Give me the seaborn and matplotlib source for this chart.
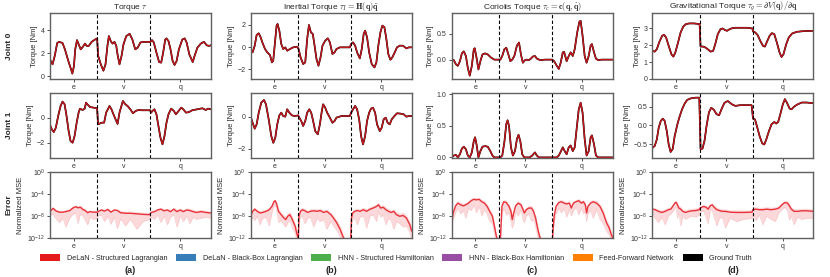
import numpy as np
import matplotlib
matplotlib.use('Agg')
import matplotlib.pyplot as plt
import seaborn as sns
from matplotlib.patches import Patch
from matplotlib.ticker import NullLocator

# ---------------- torque curves (time in % of the test set, torque in Nm) ----------------
tau_j0_t = [0, 1.7, 3.1, 4.6, 5.8, 7.9, 9.4, 11.5, 12.9, 14.0, 15.0, 15.8, 16.9, 17.9, 19.2, 20.4, 21.9, 22.9, 24.2, 26.0, 28.1, 29.4,
            30.0, 31.7, 33.3, 34.6, 35.8, 36.7, 37.9, 39.0, 40.2, 41.3, 42.1, 43.3, 44.6, 45.8, 47.5, 49.6, 51.3, 53.1, 54.6, 56.3, 58.3, 62.5,
            63.5, 64.6, 66.3, 67.9, 69.2, 70.4, 71.7, 72.5, 73.8, 75.0, 76.3, 77.5, 78.8, 80.2, 82.3, 83.8, 85.0, 86.7, 88.8, 90.0, 91.7, 93.8, 95.8, 97.5, 99.0, 100]
tau_j0 = [1.5, 1.05, 1.8, 2.9, 3.0, 2.9, 2.35, 1.35, 0.75, 0.25, 0.9, 2.35, 3.15, 2.8, 2.35, 2.55, 2.85, 2.65, 2.65, 3.0, 3.2, 3.3,
          1.8, 1.05, 0.5, 1.05, 2.65, 3.5, 3.05, 2.85, 3.0, 2.65, 1.9, 1.05, 1.8, 2.8, 3.5, 3.7, 3.2, 2.35, 2.5, 2.95, 3.0, 3.0,
          3.15, 2.95, 2.05, 1.25, 1.2, 2.05, 3.2, 3.3, 3.05, 2.35, 1.35, 1.0, 1.35, 2.35, 3.2, 3.3, 2.95, 1.9, 1.25, 1.8, 2.5, 2.85, 3.0, 2.7, 2.65, 2.7]

tau_j1_t = [0, 1.25, 2.5, 3.75, 5.2, 6.7, 7.9, 9.2, 10.4, 11.7, 12.9, 14.2, 15.4, 16.7, 17.9, 18.75, 20.4, 21.7, 22.5, 23.3, 25.0, 27.1, 29.4,
            30.0, 32.3, 33.75, 35.0, 37.1, 38.3, 39.6, 42.1, 43.3, 45.4, 46.9, 48.3, 50.0, 51.7, 53.3, 55.0, 57.3, 62.3,
            62.9, 63.75, 65.0, 66.25, 67.5, 68.75, 70.0, 71.25, 72.5, 73.75, 75.4, 77.1, 78.3, 80.0, 81.7, 82.9, 84.6, 86.5, 88.5, 91.7, 94.8, 96.9, 98.3, 100]
tau_j1 = [-0.53, -0.93, -1.15, -0.8, 0.13, 0.93, 1.28, 1.07, 0.13, -1.07, -1.87, -2.0, -1.47, -0.4, 0.4, 0.72, 0.61, 0.72, 1.2, 1.07, 0.85, 0.8, 0.75,
          -0.53, -0.4, -0.4, 0.4, 0.93, 0.67, 0.25, -0.5, 0.4, 1.33, 1.07, 0.93, 0.67, 0.35, 0.53, 0.61, 0.59, 0.59,
          0.4, 0.53, 0.67, 0.27, -0.67, -1.6, -2.13, -1.47, -0.4, 0.27, 0.72, 0.53, 0.27, 0.53, 0.8, 0.67, 0.4, 0.45, 0.59, 0.67, 0.75, 0.61, 0.72, 0.67]

inert_j0_t = [0, 1.2, 2.5, 3.7, 5.0, 6.2, 7.4, 8.9, 10.3, 12.0, 13.2, 14.0, 15.1, 16.1, 16.7, 17.8, 19.0, 20.2, 21.5, 22.7, 24.4, 26.4, 28.9,
              29.75, 31.0, 32.6, 33.9, 35.1, 36.2, 37.4, 38.6, 39.7, 40.9, 42.1, 43.4, 44.6, 46.3, 47.9, 49.2, 50.8, 52.1, 53.3, 55.4, 61.6,
              62.4, 63.6, 64.9, 66.1, 67.8, 69.0, 70.2, 71.1, 72.3, 73.6, 75.2, 76.9, 78.1, 79.3, 80.6, 81.8, 83.1, 84.3, 85.5, 86.8, 88.0, 89.5, 90.9, 92.6, 94.6, 96.7, 98.3, 100]
inert_j0 = [-0.18, -0.48, 0.12, 1.08, 1.23, 0.87, 0.36, -0.18, -0.48, -0.72, -1.38, -1.23, 0.42, 1.92, 2.07, 1.47, 0.27, -0.18, -0.03, -0.33, -0.18, -0.03, 0.03,
            -0.18, -0.93, -1.53, -1.38, 0.72, 1.98, 1.32, 1.17, 0.12, -1.08, -1.68, -0.93, 0.12, 0.57, 0.78, 0.42, -0.63, -0.48, -0.18, -0.03, -0.03,
            0.27, 0.42, 0.12, -0.48, -1.02, -0.18, 1.17, 1.47, 0.87, -0.48, -1.53, -1.83, -1.38, 0.12, 1.32, 1.92, 1.77, 0.72, -0.63, -1.14, -0.93, -0.48, -0.03, 0.12, 0.12, -0.12, -0.03, -0.03]

inert_j1_t = [0, 1.2, 2.5, 3.7, 5.0, 6.6, 8.3, 9.5, 11.2, 12.8, 14.05, 15.3, 16.5, 17.8, 19.0, 20.2, 21.5, 22.7, 24.0, 25.6, 27.5, 29.5,
              30.2, 31.4, 32.6, 33.9, 35.1, 36.4, 37.6, 38.8, 40.1, 41.7, 43.0, 44.2, 45.0, 46.3, 47.5, 49.2, 50.8, 52.1, 53.3, 56.4, 61.6,
              62.4, 63.6, 64.9, 66.1, 67.4, 68.6, 69.8, 71.1, 72.3, 73.6, 74.8, 76.0, 77.3, 78.5, 80.2, 81.4, 82.6, 83.9, 85.1, 86.4, 87.6, 89.3, 90.9, 93.0, 95.0, 96.7, 98.3, 100]
inert_j1 = [0, -0.38, -0.75, -0.48, 0.25, 0.88, 1.04, 0.77, -0.17, -1.21, -1.63, -1.31, -0.48, 0.08, 0.25, 0.04, 0, 0.46, 0.25, 0.08, 0.04, 0.08,
            -0.06, -0.27, -0.58, -0.27, 0.25, 0.46, 0.25, -0.27, -0.9, -1.1, -0.48, 0.35, 0.77, 0.56, 0.25, -0.06, -0.38, -0.27, -0.06, 0.04, 0.04,
            0.25, 0.46, 0.67, 0.46, -0.17, -1.21, -1.73, -1.21, -0.27, 0.25, 0.5, 0.56, 0.25, -0.48, -0.9, -0.69, -0.17, -0.06, -0.38, -0.48, -0.17, 0.04, 0.21, 0.19, 0.15, 0, 0.04, 0.04]

cor_j0_t = [0, 1.4, 2.7, 3.9, 5.2, 6.4, 7.6, 8.9, 10.1, 11.3, 12.6, 13.8, 14.4, 15.5, 16.7, 17.9, 19.2, 20.8, 22.5, 24.5, 26.6, 29.5,
            30.3, 31.5, 32.8, 34.0, 35.3, 36.5, 37.7, 39.0, 40.6, 41.9, 43.1, 44.3, 45.6, 46.8, 48.0, 49.3, 50.5, 51.8, 53.0, 55.1, 58.1, 62.0,
            62.5, 63.7, 65.4, 66.6, 67.8, 69.1, 69.9, 70.7, 71.5, 72.8, 74.0, 75.3, 76.5, 78.1, 79.4, 80.2, 81.4, 82.7, 83.9, 85.2, 86.4, 87.2, 88.5, 89.7, 91.1, 93.2, 96.3, 100]
cor_j0 = [0, -0.01, -0.09, -0.12, -0.03, 0.12, 0.16, 0.07, -0.16, -0.31, -0.12, 0.2, 0.22, 0.04, -0.19, -0.03, 0.1, 0.12, 0.1, 0.04, 0, 0,
          0, 0.07, 0.2, 0.23, 0.1, -0.03, 0, 0.07, 0.27, 0.33, 0.1, -0.06, -0.01, 0, -0.01, 0.02, 0.06, 0.07, 0.02, -0.01, 0, 0,
          0, -0.03, -0.12, -0.18, -0.06, 0.14, 0.15, 0.06, -0.03, 0.07, 0.14, 0.07, 0.2, 0.53, 0.73, 0.75, 0.46, 0.07, -0.06, 0.07, 0.27, 0.3, 0.14, 0.02, -0.01, 0, 0, 0]

cor_j1_t = [0, 1.4, 2.7, 3.9, 5.2, 6.4, 7.6, 8.9, 10.1, 11.3, 12.6, 13.8, 14.6, 15.5, 16.7, 17.9, 19.2, 20.8, 22.5, 24.1, 25.4, 26.6, 29.5,
            30.3, 31.5, 32.8, 34.0, 34.8, 35.7, 36.9, 38.1, 39.4, 40.6, 41.6, 42.7, 43.9, 45.2, 48.5, 50.1, 51.8, 53.0, 54.2, 62.0,
            62.5, 65.4, 66.6, 67.8, 69.1, 70.3, 71.5, 72.8, 74.0, 75.3, 76.5, 77.7, 79.0, 80.2, 81.4, 82.7, 83.9, 85.2, 86.4, 87.2, 88.5, 89.7, 91.1, 100]
cor_j1 = [0, 0.03, 0.04, 0, 0.05, 0.14, 0.17, 0.13, 0.03, 0, 0.08, 0.26, 0.32, 0.21, 0, 0.1, 0.17, 0.18, 0.17, 0.1, 0.03, 0, 0,
          0, 0.03, 0.24, 0.53, 0.59, 0.5, 0.16, 0.03, 0.1, 0.29, 0.36, 0.26, 0.05, 0, 0, 0.03, 0.08, 0.03, 0, 0,
          0, 0, 0.03, 0.09, 0.16, 0.1, 0.05, 0.16, 0.19, 0.1, 0.16, 0.45, 0.76, 0.87, 0.71, 0.29, 0.03, 0.1, 0.32, 0.35, 0.21, 0.03, 0, 0]

grav_j0_t = [0, 1.4, 2.7, 4.3, 6.0, 7.2, 8.5, 10.1, 11.8, 13.0, 14.2, 15.9, 17.5, 19.2, 20.8, 22.9, 25.8, 29.3,
             29.9, 31.5, 33.0, 34.4, 36.1, 37.7, 39.0, 40.6, 42.3, 43.5, 45.2, 46.4, 48.0, 49.7, 51.8, 54.6, 58.8, 62.1,
             62.5, 63.9, 65.4, 67.0, 68.7, 69.9, 71.1, 72.8, 74.2, 75.7, 77.3, 79.0, 80.2, 81.4, 83.1, 84.7, 86.8, 89.7, 93.8, 100]
grav_j0 = [1.66, 1.62, 1.76, 2.2, 2.56, 2.62, 2.46, 1.96, 1.46, 1.32, 1.56, 2.16, 2.76, 3.12, 3.26, 3.3, 3.3, 3.26,
           1.92, 1.92, 1.86, 1.76, 1.62, 1.66, 2.06, 2.66, 2.96, 3.0, 2.9, 2.86, 2.96, 3.02, 3.04, 3.04, 3.04, 3.0,
           2.82, 2.76, 2.6, 2.26, 1.96, 1.92, 2.2, 2.56, 2.72, 2.66, 2.16, 1.56, 1.3, 1.46, 2.06, 2.46, 2.7, 2.8, 2.84, 2.86]

grav_j1_t = [0, 1.4, 2.7, 3.9, 5.2, 6.4, 7.6, 8.9, 10.1, 11.3, 12.6, 13.8, 15.5, 16.7, 18.4, 20.0, 21.6, 23.7, 26.8, 29.1,
             29.9, 31.1, 32.4, 33.6, 35.1, 36.5, 38.1, 39.8, 41.4, 43.1, 44.7, 46.8, 49.5, 51.5, 54.6, 61.6,
             62.5, 63.7, 64.9, 66.6, 68.2, 69.5, 70.7, 72.4, 74.0, 75.7, 76.9, 78.1, 79.4, 81.0, 82.3, 83.5, 85.2, 86.4, 88.0, 90.1, 92.8, 95.9, 100]
grav_j1 = [-0.6, -0.55, -0.38, -0.06, 0.12, 0.18, 0.12, -0.15, -0.51, -0.71, -0.63, -0.29, 0.03, 0.21, 0.43, 0.58, 0.68, 0.72, 0.74, 0.74,
           -0.63, -0.62, -0.4, -0.02, 0.35, 0.47, 0.42, 0.3, 0.27, 0.45, 0.6, 0.65, 0.56, 0.52, 0.54, 0.54,
           0.18, 0.16, -0.02, -0.29, -0.48, -0.51, -0.38, -0.15, 0.03, 0.09, 0.05, 0.09, 0.29, 0.56, 0.7, 0.61, 0.45, 0.43, 0.5, 0.56, 0.61, 0.61, 0.59]

# ---------------- normalized MSE (log10): mean, band high, band low ----------------
err_tau_t = [0, 2, 4, 6, 8, 10, 12.5, 14, 16, 17.5, 19, 20.5, 22, 23.5, 25, 27, 29.5,
             30, 32, 34, 36, 38, 40, 42, 44, 47, 50, 54, 58, 62,
             63, 65, 67, 69, 71, 73, 75, 77, 79, 81, 83, 85, 87, 89, 91, 94, 97, 100]
err_tau = [-7.2, -6.6, -7.1, -7.3, -7.3, -7.2, -7.0, -6.6, -6.3, -6.5, -6.4, -6.8, -7.0, -7.4, -7.2, -7.3, -7.3,
           -7.2, -6.9, -7.1, -6.8, -7.3, -6.9, -7.0, -7.4, -7.5, -7.5, -7.6, -7.7, -7.75,
           -7.35, -7.2, -6.9, -6.75, -7.05, -6.9, -7.2, -6.75, -7.2, -6.9, -7.2, -6.9, -7.0, -7.2, -7.35, -7.2, -7.35, -7.45]
err_tau_hi = [-6.8, -6.3, -6.8, -7.0, -7.0, -6.8, -6.6, -6.2, -6.0, -6.1, -6.1, -6.4, -6.7, -7.0, -6.9, -7.0, -7.0,
              -6.9, -6.6, -6.8, -6.5, -7.0, -6.6, -6.7, -7.0, -7.1, -7.1, -7.2, -7.3, -7.4,
              -7.0, -6.9, -6.6, -6.4, -6.7, -6.6, -6.9, -6.4, -6.8, -6.6, -6.8, -6.5, -6.6, -6.8, -7.0, -6.8, -7.0, -7.1]
err_tau_lo = [-8.0, -7.6, -8.6, -9.2, -8.4, -10.0, -8.3, -7.8, -7.4, -9.4, -7.6, -8.0, -8.8, -9.6, -8.2, -8.6, -8.4,
              -8.0, -7.8, -9.0, -8.0, -9.5, -8.2, -10.3, -8.5, -9.8, -8.6, -10.4, -9.0, -8.6,
              -8.2, -8.6, -7.8, -9.2, -8.0, -9.6, -8.2, -7.8, -10.0, -8.0, -9.0, -8.0, -9.4, -8.2, -8.6, -8.4, -8.2, -8.4]

err_inert_t = [0, 1.2, 2.5, 4.1, 5.8, 7.4, 9.5, 11.5, 13.2, 14.4, 15.2, 16.0, 17.3, 18.9, 20.6, 21.8, 23.0, 24.3, 25.9, 27.6, 28.8, 29.6,
               30.0, 30.9, 32.1, 33.7, 35.4, 37.0, 39.1, 41.2, 43.2, 45.3, 47.3, 49.8, 51.4, 53.5, 55.6, 57.2, 58.4, 62.0,
               62.6, 63.4, 64.6, 66.3, 67.9, 70.0, 72.0, 74.1, 76.1, 78.2, 79.4, 80.7, 82.3, 84.0, 85.6, 87.2, 88.9, 90.5, 92.6, 94.7, 96.7, 98.8, 100]
err_inert = [-8.05, -7.15, -6.75, -7.15, -7.45, -7.35, -7.15, -6.85, -6.25, -5.4, -5.2, -5.7, -7.15, -7.75, -8.35, -8.65, -8.05, -7.75, -8.65, -9.85, -11.35, -12.2,
             -8.05, -7.15, -6.85, -7.05, -7.35, -7.15, -7.05, -7.15, -7.0, -7.35, -7.15, -7.75, -8.35, -9.25, -10.45, -11.65, -12.5, -13.5,
             -8.35, -7.45, -7.15, -7.0, -7.15, -6.85, -7.15, -6.75, -6.55, -6.25, -5.95, -6.55, -6.4, -6.85, -7.15, -7.35, -7.15, -7.75, -8.05, -7.9, -8.35, -9.55, -10.75]
err_inert_hi = [-7.6, -6.7, -6.4, -6.8, -7.0, -6.9, -6.8, -6.5, -5.9, -5.1, -4.9, -5.3, -6.6, -7.3, -7.8, -8.0, -7.5, -7.2, -8.0, -9.2, -10.6, -11.6,
                -7.5, -6.7, -6.4, -6.6, -7.0, -6.7, -6.6, -6.7, -6.6, -6.9, -6.7, -7.3, -7.8, -8.7, -9.8, -11.0, -11.9, -13.0,
                -7.8, -7.0, -6.7, -6.6, -6.7, -6.4, -6.7, -6.3, -6.1, -5.8, -5.5, -6.1, -5.9, -6.4, -6.7, -6.9, -6.7, -7.2, -7.5, -7.3, -7.8, -8.9, -10.1]
err_inert_lo = [-9.0, -8.2, -8.8, -8.0, -9.6, -8.4, -8.2, -9.8, -7.4, -6.2, -6.0, -6.8, -9.2, -8.8, -9.6, -10.0, -9.2, -8.8, -10.2, -11.2, -12.6, -13.0,
                -9.2, -8.2, -8.0, -9.4, -8.4, -8.2, -10.0, -8.4, -9.0, -8.6, -10.4, -9.0, -9.8, -10.6, -11.8, -12.8, -13.5, -14.0,
                -9.6, -8.6, -8.4, -9.6, -8.2, -8.0, -10.2, -8.0, -7.8, -9.0, -7.2, -8.2, -7.8, -9.6, -8.4, -8.8, -10.4, -9.0, -9.4, -10.0, -9.8, -11.0, -12.2]

err_cor_t = [0, 1.0, 2.5, 3.9, 5.6, 7.2, 8.9, 10.5, 12.2, 13.8, 15.5, 17.1, 18.8, 20.4, 22.1, 23.7, 25.4, 26.6, 27.8, 28.7, 29.6,
             29.7, 30.3, 31.3, 32.4, 34.0, 35.7, 36.9, 37.7, 38.6, 39.8, 41.4, 43.1, 44.3, 45.2, 46.4, 48.0, 49.7, 50.9, 52.2, 53.4, 54.6, 55.9, 62.0,
             62.3, 63.7, 64.9, 66.6, 68.2, 69.9, 71.5, 73.2, 74.4, 75.7, 77.3, 79.0, 80.6, 81.9, 83.1, 83.9, 84.7, 86.4, 88.0, 90.1, 92.2, 94.2, 96.3, 97.9, 99.2, 100]
err_cor = [-9.25, -7.45, -6.15, -5.65, -5.95, -6.15, -5.95, -5.65, -5.2, -4.95, -5.05, -4.95, -5.4, -5.65, -6.25, -7.15, -8.05, -9.85, -11.65, -12.5, -13.5,
           -13.5, -12.5, -6.25, -5.4, -5.55, -6.25, -7.15, -8.65, -7.45, -6.15, -5.65, -5.95, -6.75, -7.45, -6.85, -6.55, -6.55, -7.15, -8.35, -10.15, -11.65, -12.6, -13.5,
           -13.5, -8.05, -6.25, -5.55, -5.4, -5.65, -5.8, -5.65, -6.55, -5.65, -5.4, -5.2, -5.65, -5.4, -5.95, -7.45, -6.25, -5.65, -5.4, -5.65, -6.25, -7.45, -9.25, -10.15, -11.35, -11.95]
err_cor_hi = [-8.6, -6.9, -5.7, -5.2, -5.5, -5.7, -5.5, -5.2, -4.8, -4.6, -4.7, -4.6, -5.0, -5.2, -5.8, -6.7, -7.5, -9.2, -11.0, -11.9, -13.0,
              -13.0, -11.8, -5.8, -5.0, -5.1, -5.8, -6.6, -7.8, -6.9, -5.7, -5.2, -5.5, -6.3, -6.9, -6.4, -6.1, -6.1, -6.6, -7.8, -9.5, -11.0, -12.0, -13.0,
              -13.0, -7.5, -5.8, -5.1, -5.0, -5.2, -5.4, -5.2, -6.0, -5.2, -5.0, -4.8, -5.2, -5.0, -5.5, -6.8, -5.8, -5.2, -5.0, -5.2, -5.8, -6.9, -8.6, -9.5, -10.7, -11.3]
err_cor_lo = [-10.4, -8.6, -7.4, -6.6, -7.6, -7.0, -8.4, -6.6, -7.0, -6.0, -7.4, -6.2, -8.0, -6.8, -7.8, -9.0, -9.4, -11.2, -12.8, -13.5, -14.0,
              -14.0, -13.5, -7.6, -6.6, -7.8, -7.4, -9.0, -10.2, -9.4, -7.2, -8.0, -6.8, -8.6, -9.2, -8.0, -7.6, -9.0, -8.6, -10.0, -11.6, -12.8, -13.5, -14.0,
              -14.0, -9.4, -7.6, -6.6, -7.4, -6.6, -8.2, -6.8, -8.0, -7.0, -6.4, -7.8, -6.6, -7.6, -7.2, -9.0, -7.6, -7.0, -8.4, -6.8, -8.6, -9.4, -10.8, -11.4, -12.4, -12.8]

err_grav_t = [0, 1.7, 3.7, 5.8, 7.9, 9.9, 11.4, 12.6, 13.9, 14.7, 15.5, 16.4, 17.6, 18.8, 20.5, 22.6, 24.6, 27.1, 29.0,
              29.6, 31.7, 33.3, 34.6, 35.8, 37.1, 38.3, 40.0, 41.6, 43.3, 45.3, 48.2, 52.4, 56.5, 61.9,
              62.3, 64.4, 66.5, 68.5, 71.0, 73.5, 76.4, 78.5, 80.5, 82.2, 83.9, 85.1, 86.3, 88.0, 90.1, 92.8, 95.9, 100]
err_grav = [-6.75, -6.85, -7.15, -7.35, -7.15, -6.85, -6.75, -6.25, -5.65, -5.5, -5.95, -6.55, -6.75, -7.15, -7.35, -7.15, -7.05, -7.0, -6.85,
            -6.55, -6.25, -6.4, -6.75, -6.15, -5.95, -6.4, -6.85, -7.0, -7.15, -7.15, -7.3, -7.35, -7.35, -7.3,
            -6.85, -6.75, -6.85, -6.85, -6.75, -6.85, -6.75, -6.55, -5.95, -5.55, -5.65, -6.15, -6.75, -7.15, -7.15, -7.05, -7.05, -7.15]
err_grav_hi = [-6.4, -6.5, -6.8, -6.9, -6.7, -6.4, -6.3, -5.8, -5.2, -5.1, -5.5, -6.0, -6.3, -6.7, -6.9, -6.7, -6.6, -6.5, -6.4,
               -6.2, -5.9, -6.0, -6.3, -5.8, -5.6, -6.0, -6.4, -6.6, -6.7, -6.7, -6.9, -6.9, -6.9, -6.9,
               -6.4, -6.3, -6.4, -6.4, -6.3, -6.4, -6.3, -6.1, -5.5, -5.1, -5.2, -5.7, -6.3, -6.7, -6.7, -6.6, -6.6, -6.7]
err_grav_lo = [-7.6, -8.4, -9.2, -8.2, -9.6, -8.0, -7.6, -7.2, -6.6, -6.4, -8.4, -7.4, -9.8, -8.0, -8.6, -8.2, -8.0, -8.2, -7.8,
               -7.4, -7.0, -8.4, -9.4, -7.0, -6.8, -8.2, -9.8, -8.4, -8.2, -10.2, -8.4, -9.0, -8.6, -8.4,
               -7.6, -8.8, -7.8, -9.6, -8.0, -8.6, -9.0, -7.4, -6.8, -6.4, -7.0, -8.8, -8.0, -9.6, -8.2, -8.6, -8.4, -8.4]

seg_edges = [29.5, 62.3]
seg_centers = [14.75, 45.9, 81.15]
seg_labels = ['e', 'v', 'q']

titles = [r'Torque $\tau$',
          r'Inertial Torque $\tau_I = \mathbf{H}(\mathbf{q})\ddot{\mathbf{q}}$',
          r'Coriolis Torque $\tau_c = \mathbf{c}(\mathbf{q}, \dot{\mathbf{q}})$',
          r'Gravitational Torque $\tau_g = \partial V(\mathbf{q})/\partial\mathbf{q}$']
panel_tags = ['(a)', '(b)', '(c)', '(d)']

legend_labels = ['DeLaN - Structured Lagrangian', 'DeLaN - Black-Box Lagrangian',
                 'HNN - Structured Hamiltonian', 'HNN - Black-Box Hamiltonian',
                 'Feed-Forward Network', 'Ground Truth']
legend_colors = ['#e41a1c', '#377eb8', '#4daf4a', '#984ea3', '#ff7f00', '#000000']

torque_curves = [
    [(tau_j0_t, tau_j0), (tau_j1_t, tau_j1)],
    [(inert_j0_t, inert_j0), (inert_j1_t, inert_j1)],
    [(cor_j0_t, cor_j0), (cor_j1_t, cor_j1)],
    [(grav_j0_t, grav_j0), (grav_j1_t, grav_j1)],
]
error_curves = [
    (err_tau_t, err_tau, err_tau_lo, err_tau_hi),
    (err_inert_t, err_inert, err_inert_lo, err_inert_hi),
    (err_cor_t, err_cor, err_cor_lo, err_cor_hi),
    (err_grav_t, err_grav, err_grav_lo, err_grav_hi),
]
ylims = [[(-0.2, 5.5), (-3.25, 2.0)],
         [(-2.85, 3.05), (-2.6, 1.5)],
         [(-0.37, 0.9), (-0.015, 1.03)],
         [(0, 3.92), (-0.88, 0.875)]]
yticks = [[[0, 2, 4], [-2, 0]],
          [[-2, 0, 2], [-2, 0]],
          [[0.0, 0.5], [0.0, 0.5, 1.0]],
          [[0, 1, 2, 3], [-0.5, 0.0, 0.5]]]

sns.set_theme(style='ticks')
plt.rcParams['font.family'] = ['Liberation Sans', 'DejaVu Sans']
plt.rcParams['mathtext.fontset'] = 'cm'
plt.rcParams['axes.edgecolor'] = '#606060'
plt.rcParams['axes.linewidth'] = 1.0

fig, axes = plt.subplots(3, 4, figsize=(8.3, 2.77), dpi=100)
fig.subplots_adjust(left=0.060, right=0.980, top=0.953, bottom=0.141, wspace=0.248, hspace=0.21)

GT_COLOR = '#000000'
PRED_COLOR = '#c0161c'
ERR_COLOR = '#e8333b'


def style_axis(ax):
    ax.set_xlim(0, 100)
    ax.set_xticks(seg_centers)
    ax.set_xticklabels(seg_labels)
    for x in seg_edges:
        ax.axvline(x, color='black', ls=(0, (3, 2)), lw=0.8, zorder=5)
    ax.tick_params(labelsize=5, length=2, width=0.6, pad=1.5, colors='#333333')
    for sp in ax.spines.values():
        sp.set_visible(True)


for col in range(4):
    for row in range(2):
        ax = axes[row, col]
        t, v = torque_curves[col][row]
        sns.lineplot(x=t, y=v, ax=ax, color=GT_COLOR, linewidth=1.25, sort=False, estimator=None)
        sns.lineplot(x=t, y=v, ax=ax, color=PRED_COLOR, linewidth=1.0, sort=False, estimator=None)
        ax.set_ylim(*ylims[col][row])
        ax.set_yticks(yticks[col][row])
        ax.set_ylabel('Torque [Nm]', fontsize=5.5, labelpad=2)
        style_axis(ax)

    ax = axes[2, col]
    t, m, lo, hi = error_curves[col]
    t = np.array(t)
    ax.set_yscale('log')
    ax.fill_between(t, 10.0 ** np.array(lo), 10.0 ** np.array(hi), color='#f7a9ad', alpha=0.45, lw=0)
    sns.lineplot(x=t, y=10.0 ** np.array(lo), ax=ax, color='#f8c4c7', linewidth=0.4, sort=False, estimator=None)
    sns.lineplot(x=t, y=10.0 ** np.array(m), ax=ax, color=ERR_COLOR, linewidth=1.0, sort=False, estimator=None)
    ax.set_ylim(1e-12, 1e0)
    ax.set_yticks([1e-12, 1e-8, 1e-4, 1e0])
    ax.yaxis.set_minor_locator(NullLocator())
    ax.set_ylabel('Normalized MSE', fontsize=5.5, labelpad=2)
    style_axis(ax)

    axes[0, col].set_title(titles[col], fontsize=6, pad=3)
    pos = axes[2, col].get_position()
    fig.text((pos.x0 + pos.x1) / 2, 0.025, panel_tags[col], ha='center', va='center',
             fontsize=6.5, fontweight='bold')

for row, name in enumerate(['Joint 0', 'Joint 1', 'Error']):
    pos = axes[row, 0].get_position()
    fig.text(0.011, (pos.y0 + pos.y1) / 2, name, rotation=90, ha='center', va='center',
             fontsize=6, fontweight='bold')

handles = [Patch(facecolor=c, edgecolor='none') for c in legend_colors]
fig.legend(handles, legend_labels, loc='center', bbox_to_anchor=(0.477, 0.069), ncol=6,
           frameon=False, fontsize=5.2, handlelength=2.8, handleheight=1.1,
           columnspacing=1.2, handletextpad=0.9)

fig.savefig('out.png', dpi=100)
